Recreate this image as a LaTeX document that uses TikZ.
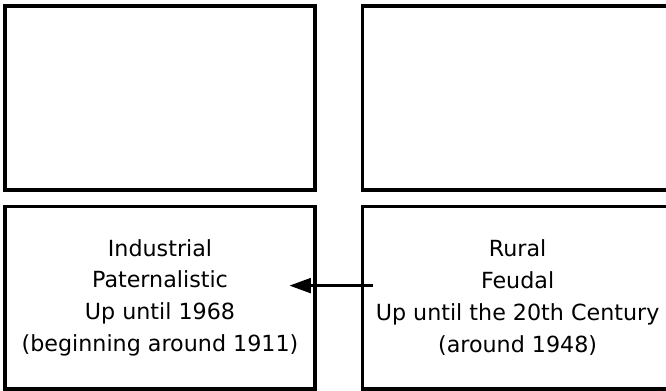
\documentclass[tikz,border=0pt]{standalone}
\usepackage{fontspec}
\setmainfont{DejaVu Sans}
\usetikzlibrary{arrows.meta}

\tikzset{
  era/.style={draw,line width=2.5pt,minimum width=7.75cm,minimum height=4.56cm,
    align=center,font=\fontsize{15.8}{22.6}\selectfont},
  conn/.style={line width=2.5pt,-{Triangle[length=0.54cm,width=0.36cm]}}
}

\begin{document}
\begin{tikzpicture}
    \useasboundingbox (0,0) rectangle (16.65,9.75);

    \node[era,minimum height=4.6cm] (topleft) at (4,7.306) {};
    \node[era,minimum height=4.6cm] (topright) at (12.94,7.306) {};

    \node[era] (industrial) at (4,2.31)
    {Industrial\\Paternalistic\\Up until 1968\\(beginning around 1911)};
    \node[era] (rural) at (12.94,2.31)
    {Rural\\Feudal\\Up until the 20th Century\\(around 1948)};

    \draw[conn] ([shift={(0.30cm,0.30cm)}]rural.west)
    -- ([shift={(-0.69cm,0.30cm)}]industrial.east);

    \end{tikzpicture}
\end{document}
